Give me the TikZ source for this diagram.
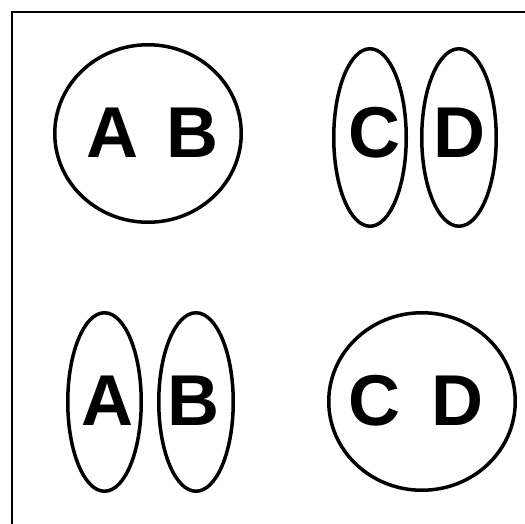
\documentclass[tikz,border=0pt]{standalone}
\usepackage{fontspec}
\setmainfont{Liberation Sans}
\usetikzlibrary{shapes.geometric}
\begin{document}
\begin{tikzpicture}[x=1pt,y=-1pt,
  ring/.style={draw=black,line width=3.5pt,ellipse,inner sep=0pt},
  letter/.style={anchor=base,inner sep=0pt,font=\fontsize{72}{72}\selectfont\bfseries}]
\useasboundingbox (0,0) rectangle (525,524);
\fill[white] (0,0) rectangle (525,524);
\draw[line width=2.3pt] (12,540) -- (12,12) -- (540,12);
% top left
\node[ring,minimum width=186.5pt,minimum height=177.5pt] (e1) at (148,133.5) {};
\node[letter] (a1) at (112,158) {A};
\node[letter] (b1) at (192,158) {B};
% top right
\node[ring,minimum width=72.5pt,minimum height=177.5pt] (e2) at (370,137.5) {};
\node[ring,minimum width=74.5pt,minimum height=177.5pt] (e3) at (459,137.5) {};
\node[letter] (c1) at (374,158) {C};
\node[letter] (d1) at (459,158) {D};
% bottom left
\node[ring,minimum width=73.5pt,minimum height=178.5pt] (e4) at (104.5,402) {};
\node[ring,minimum width=74.5pt,minimum height=178.5pt] (e5) at (196,402) {};
\node[letter] (a2) at (107,425.5) {A};
\node[letter] (b2) at (193,425.5) {B};
% bottom right
\node[ring,minimum width=186.5pt,minimum height=177.5pt] (e6) at (422,401.5) {};
\node[letter] (c2) at (374.5,425) {C};
\node[letter] (d2) at (457,425) {D};
\end{tikzpicture}
\end{document}
